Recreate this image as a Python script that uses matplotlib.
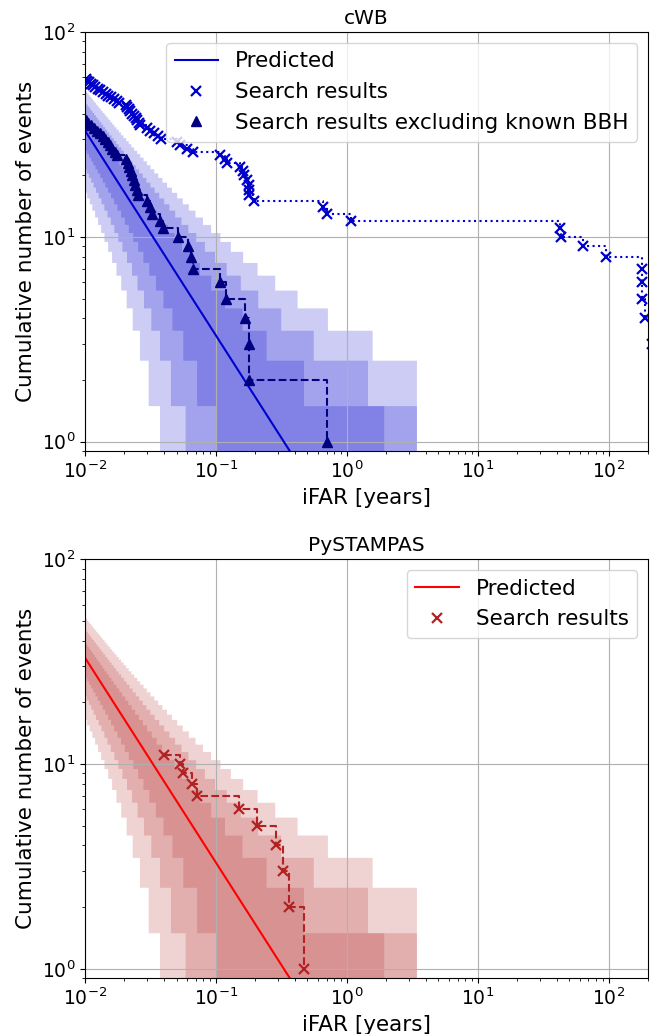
import numpy as np
import matplotlib
matplotlib.use('Agg')
import matplotlib.pyplot as plt
from math import exp

# iFAR of the events [years], loudest first
cwb_ifar = [260, 240, 215, 188, 180, 179.5, 179, 95, 63.5, 43.5, 42.5,
            1.07, 0.70, 0.652, 0.196, 0.180, 0.179, 0.178, 0.172, 0.163,
            0.160, 0.153, 0.121, 0.117, 0.107, 0.0664, 0.0597, 0.0531, 0.050,
            0.0383, 0.036, 0.0335, 0.0315, 0.0296, 0.0263, 0.0258, 0.0250,
            0.0243, 0.0236, 0.0229, 0.0222, 0.0215, 0.0210, 0.0205, 0.0183,
            0.0175, 0.0166, 0.0158, 0.0151, 0.0144, 0.0137, 0.0131, 0.0125,
            0.0120, 0.0115, 0.0111, 0.0107, 0.0104, 0.0102]
cwb_nobbh_ifar = [0.70, 0.180, 0.178, 0.166, 0.119, 0.107, 0.067, 0.065,
                  0.0615, 0.0516, 0.0396, 0.0374, 0.0323, 0.0314, 0.0300,
                  0.0255, 0.0250, 0.0242, 0.0236, 0.0230, 0.0224, 0.0218,
                  0.0213, 0.0207, 0.0175, 0.0168, 0.0162, 0.0155, 0.0149,
                  0.0142, 0.0136, 0.0130, 0.0123, 0.0117, 0.0111, 0.0105,
                  0.0101]
pyst_ifar = [0.47, 0.361, 0.326, 0.287, 0.205, 0.151, 0.0713, 0.0652,
             0.0562, 0.0531, 0.040]

# predicted background: N(>iFAR) = obs_time / iFAR
obs_time = 0.33
ifar_min = 0.008
ifar_max = 3.4
# poisson probabilities for 1, 2, 3 sigma
sig_probs = [(0.15866, 0.84134), (0.02275, 0.97725), (0.00135, 0.99865)]


def pois_ppf(q, mu):
    k = 0
    p = exp(-mu)
    c = p
    while c < q:
        k += 1
        p *= mu / k
        c += p
    return k


def cumul(ifar):
    v = np.sort(np.array(ifar, dtype=float))
    n = np.arange(len(v), 0, -1)
    return v, n


def background(ax, col, line_col):
    x = np.logspace(np.log10(ifar_min), np.log10(ifar_max), 3000)
    mu = obs_time / x
    for lo, hi in sig_probs:
        a = np.array([pois_ppf(lo, m) for m in mu]) - 0.5
        b = np.array([pois_ppf(hi, m) for m in mu]) + 0.5
        a = np.maximum(a, 0.1)
        b = np.maximum(b, 0.1)
        ax.fill_between(x, a, b, color=col, alpha=0.2, lw=0, step='post')
    ax.plot(x, mu, color=line_col, lw=1.5, label='Predicted')


def style(ax, title):
    ax.set_xscale('log')
    ax.set_yscale('log')
    ax.set_xlim(0.01, 200)
    ax.set_ylim(0.9, 100)
    ax.grid(True)
    ax.set_title(title, fontsize=14.5)
    ax.set_xlabel('iFAR [years]', fontsize=15.5)
    ax.set_ylabel('Cumulative number of events', fontsize=15.5)
    ax.tick_params(labelsize=13.5)


fig, (ax1, ax2) = plt.subplots(2, 1, figsize=(6.54, 10.34), dpi=100)
fig.subplots_adjust(left=0.130, right=0.991, top=0.969, bottom=0.054, hspace=0.258)

# cWB
background(ax1, 'mediumblue', 'mediumblue')
x, n = cumul(cwb_ifar)
ax1.plot(x, n, ':', color='mediumblue', lw=1.5, drawstyle='steps-post')
ax1.plot(x, n, 'x', color='mediumblue', ms=7, mew=1.6, label='Search results')
x, n = cumul(cwb_nobbh_ifar)
ax1.plot(x, n, '--', color='navy', lw=1.5, drawstyle='steps-post')
ax1.plot(x, n, '^', color='navy', ms=7, label='Search results excluding known BBH')
style(ax1, 'cWB')
ax1.legend(loc='upper right', fontsize=15.5)

# PySTAMPAS
background(ax2, 'firebrick', 'red')
x, n = cumul(pyst_ifar)
ax2.plot(x, n, '--', color='firebrick', lw=1.5, drawstyle='steps-post')
ax2.plot(x, n, 'x', color='firebrick', ms=7, mew=1.6, label='Search results')
style(ax2, 'PySTAMPAS')
ax2.legend(loc='upper right', fontsize=15.5)

fig.savefig('out.png')
